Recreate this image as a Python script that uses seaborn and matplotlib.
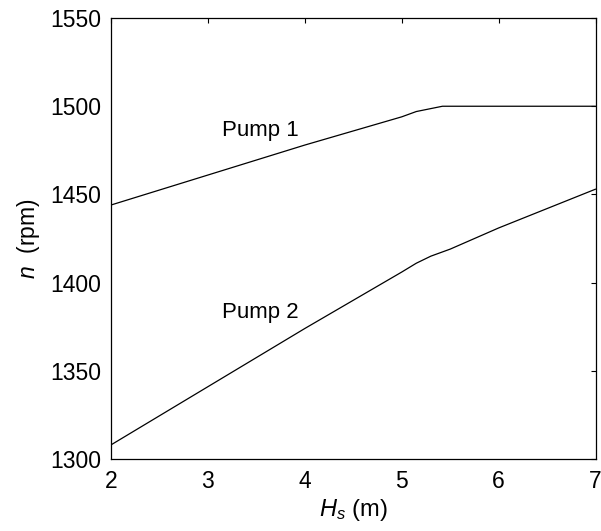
import matplotlib
matplotlib.use("Agg")
import matplotlib.pyplot as plt
import numpy as np
import pandas as pd
import seaborn as sns

# dados
hs_pump1 = [2.0, 3.0, 4.0, 5.0, 5.15, 5.42, 6.0, 7.0]
n_pump1 = [1444, 1461, 1478, 1494, 1497, 1500, 1500, 1500]

hs_pump2 = [2.0, 3.0, 4.0, 5.0, 5.15, 5.3, 5.5, 6.0, 6.5, 7.0]
n_pump2 = [1308, 1341, 1374, 1406, 1411, 1415, 1419, 1431, 1442, 1453]

sns.set_style("white")
plt.rcParams['font.family'] = ['Liberation Sans', 'DejaVu Sans']
plt.rcParams['text.color'] = 'black'
plt.rcParams['axes.labelcolor'] = 'black'
plt.rcParams['mathtext.fontset'] = 'custom'
plt.rcParams['mathtext.it'] = 'Liberation Sans:italic'
plt.rcParams['mathtext.rm'] = 'Liberation Sans'

df1 = pd.DataFrame({'Hs': hs_pump1, 'n': n_pump1})
df2 = pd.DataFrame({'Hs': hs_pump2, 'n': n_pump2})

fig, ax = plt.subplots(figsize=(6.01, 5.31), dpi=100)
fig.subplots_adjust(left=0.1847, right=0.991, top=0.966, bottom=0.1356)

sns.lineplot(x='Hs', y='n', data=df1, ax=ax, color='black', linewidth=0.9, estimator=None)
sns.lineplot(x='Hs', y='n', data=df2, ax=ax, color='black', linewidth=0.9, estimator=None)

ax.text(3.15, 1483, 'Pump 1', fontsize=16, ha='left', va='baseline', color='black')
ax.text(3.15, 1380, 'Pump 2', fontsize=16, ha='left', va='baseline', color='black')

ax.set_xlim(2, 7)
ax.set_ylim(1300, 1550)
ax.set_xticks([2, 3, 4, 5, 6, 7])
ax.set_yticks([1300, 1350, 1400, 1450, 1500, 1550])
ax.tick_params(direction='in', top=True, right=True, length=3.5, width=0.8,
               labelsize=16.5, colors='black')
ax.tick_params(axis='x', pad=8)
ax.tick_params(axis='y', pad=7)
for s in ax.spines.values():
    s.set_color('black')
    s.set_linewidth(0.9)

ax.set_xlabel(r'$H_s$ (m)', fontsize=17, labelpad=3)
ax.set_ylabel(r'$n$  (rpm)', fontsize=16.5, labelpad=6)

fig.savefig('out.png', dpi=100)
